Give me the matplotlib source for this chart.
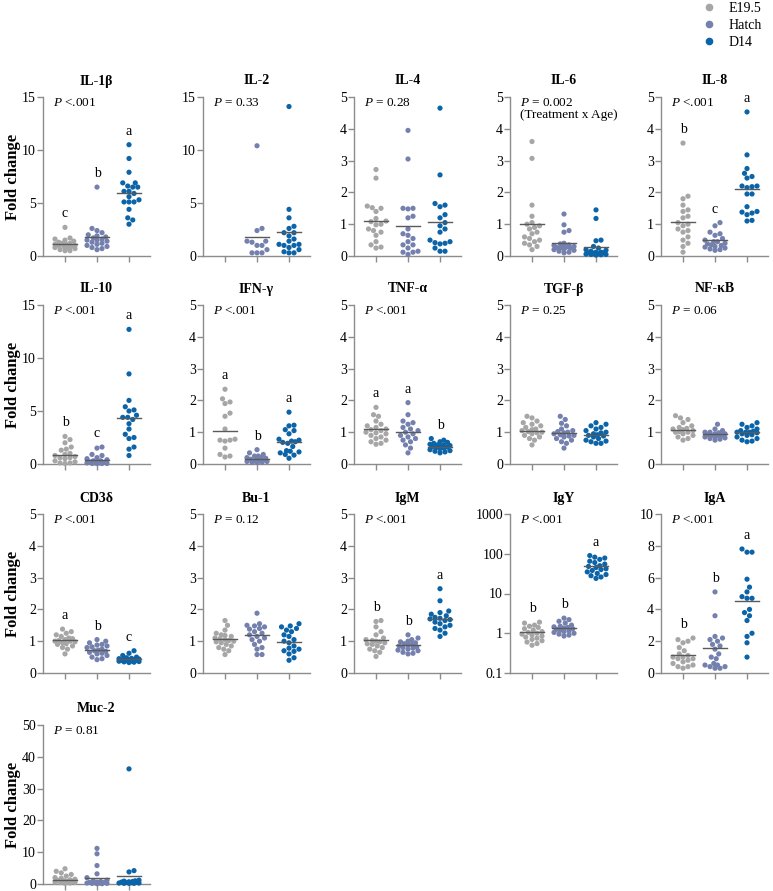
"""
Relative expression (fold change) of immune genes at E19.5, hatch and D14.
Dot-swarm per age group, horizontal line = group mean, letters = post-hoc groups.
"""
import numpy as np
import matplotlib
matplotlib.use("Agg")
import matplotlib.pyplot as plt
from matplotlib.lines import Line2D

plt.rcParams["font.family"] = ["Liberation Serif", "DejaVu Serif"]
plt.rcParams["mathtext.fontset"] = "custom"
plt.rcParams["mathtext.rm"] = "Liberation Serif"
plt.rcParams["mathtext.it"] = "Liberation Serif:italic"
plt.rcParams["mathtext.bf"] = "Liberation Serif:bold"

# ── data ───────────────────────────────────────────────────────────────────
GROUPS = ["E19.5", "Hatch", "D14"]
COLORS = ["#a6a6a6", "#7480ad", "#0b63a8"]

IL1B_E = [2.7, 1.7, 1.6, 1.5, 1.4, 1.3, 1.2, 1.2, 1.1, 1.1, 1.0, 1.0, 0.9, 0.9, 0.8, 0.8, 0.7, 0.6, 0.5, 0.5]
IL1B_H = [6.5, 2.6, 2.4, 2.2, 2.0, 1.9, 1.8, 1.7, 1.6, 1.5, 1.5, 1.4, 1.3, 1.2, 1.1, 1.0, 0.9, 0.8, 0.7, 0.6]
IL1B_D = [10.5, 9.2, 7.9, 6.9, 6.9, 6.6, 6.5, 6.5, 6.1, 6.1, 5.9, 5.6, 5.3, 5.1, 5.1, 5.1, 4.4, 3.6, 3.4, 3.0]
IL1B_MEAN = [1.1, 1.75, 5.9]

IL2_E = []
IL2_H = [10.4, 2.6, 2.4, 1.4, 1.4, 1.3, 1.0, 1.0, 0.6, 0.3, 0.3, 0.3]
IL2_D = [14.1, 4.4, 3.6, 2.8, 2.6, 2.2, 2.2, 1.9, 1.6, 1.4, 1.1, 1.1, 1.0, 1.0, 0.8, 0.6, 0.4, 0.3, 0.3]
IL2_MEAN = [None, 1.8, 2.3]

IL4_E = [2.72, 2.45, 1.57, 1.52, 1.50, 1.40, 1.18, 1.10, 1.08, 1.00, 0.98, 0.85, 0.80, 0.75, 0.65, 0.45, 0.35, 0.28, 0.25]
IL4_H = [3.95, 3.05, 1.50, 1.50, 1.48, 1.25, 1.20, 0.85, 0.70, 0.65, 0.55, 0.45, 0.35, 0.35, 0.25, 0.15, 0.12, 0.12, 0.05]
IL4_D = [4.65, 2.55, 1.65, 1.60, 1.55, 1.30, 1.20, 1.05, 0.95, 0.85, 0.75, 0.50, 0.45, 0.42, 0.40, 0.38, 0.25, 0.15, 0.15]
IL4_MEAN = [1.1, 0.95, 1.08]

IL6_E = [3.6, 3.07, 1.6, 1.25, 1.05, 1.0, 0.95, 0.9, 0.85, 0.75, 0.7, 0.6, 0.55, 0.5, 0.45, 0.4, 0.35, 0.3, 0.2]
IL6_H = [1.32, 0.98, 0.80, 0.75, 0.40, 0.38, 0.35, 0.33, 0.30, 0.30, 0.28, 0.27, 0.25, 0.25, 0.22, 0.20, 0.18, 0.15, 0.12, 0.10]
IL6_D = [1.45, 1.18, 0.50, 0.48, 0.30, 0.25, 0.20, 0.18, 0.15, 0.12, 0.12, 0.10, 0.10, 0.08, 0.07, 0.06, 0.05, 0.05, 0.04, 0.03]
IL6_MEAN = [1.0, 0.4, 0.28]

IL8_E = [3.55, 1.88, 1.80, 1.60, 1.45, 1.40, 1.25, 1.20, 1.05, 1.00, 0.95, 0.85, 0.80, 0.75, 0.60, 0.50, 0.40, 0.30, 0.12]
IL8_H = [1.05, 0.95, 0.75, 0.70, 0.65, 0.55, 0.50, 0.45, 0.45, 0.40, 0.38, 0.35, 0.33, 0.30, 0.28, 0.25, 0.22, 0.20, 0.18]
IL8_D = [4.53, 3.18, 2.75, 2.60, 2.50, 2.45, 2.20, 2.20, 2.18, 2.15, 1.95, 1.95, 1.55, 1.40, 1.38, 1.35, 1.30, 1.12, 1.10]
IL8_MEAN = [1.08, 0.5, 2.1]

IL10_E = [2.6, 2.3, 2.0, 1.6, 1.4, 1.3, 1.0, 0.9, 0.8, 0.7, 0.6, 0.6, 0.5, 0.3, 0.2, 0.1, 0.1, 0.05]
IL10_H = [1.6, 1.5, 0.9, 0.8, 0.6, 0.5, 0.4, 0.3, 0.3, 0.2, 0.2, 0.15, 0.1, 0.1, 0.1, 0.05, 0.05, 0.05, 0.05]
IL10_D = [12.7, 8.5, 6.0, 5.4, 5.1, 5.0, 4.6, 4.4, 4.4, 4.2, 3.8, 3.3, 2.8, 2.5, 2.4, 1.6, 1.4, 0.8]
IL10_MEAN = [0.85, 0.35, 4.3]

IFNG_E = [2.35, 2.05, 1.95, 1.90, 1.60, 1.50, 1.10, 0.78, 0.75, 0.75, 0.72, 0.50, 0.30, 0.25, 0.22]
IFNG_H = [0.45, 0.35, 0.30, 0.25, 0.25, 0.20, 0.20, 0.18, 0.15, 0.15, 0.12, 0.10, 0.10, 0.08, 0.08, 0.05, 0.05, 0.05]
IFNG_D = [1.63, 1.22, 1.20, 1.08, 1.05, 0.95, 0.78, 0.75, 0.72, 0.70, 0.68, 0.65, 0.55, 0.42, 0.40, 0.38, 0.35, 0.30, 0.28, 0.18]
IFNG_MEAN = [1.03, 0.17, 0.7]

TNFA_E = [1.78, 1.55, 1.50, 1.35, 1.25, 1.20, 1.15, 1.10, 1.08, 1.05, 1.00, 0.98, 0.95, 0.90, 0.85, 0.80, 0.75, 0.70, 0.65, 0.62]
TNFA_H = [1.93, 1.55, 1.35, 1.30, 1.25, 1.15, 1.10, 1.05, 1.00, 0.95, 0.90, 0.85, 0.80, 0.75, 0.70, 0.60, 0.50, 0.35]
TNFA_D = [0.80, 0.75, 0.70, 0.68, 0.65, 0.62, 0.60, 0.60, 0.58, 0.56, 0.55, 0.53, 0.52, 0.50, 0.48, 0.45, 0.42, 0.40, 0.38, 0.35]
TNFA_MEAN = [1.1, 1.02, 0.55]

TGFB_E = [1.50, 1.45, 1.35, 1.30, 1.25, 1.20, 1.15, 1.10, 1.08, 1.05, 1.02, 1.00, 0.98, 0.95, 0.90, 0.85, 0.80, 0.75, 0.60]
TGFB_H = [1.50, 1.40, 1.28, 1.20, 1.10, 1.05, 1.02, 1.00, 0.98, 0.95, 0.92, 0.90, 0.88, 0.85, 0.80, 0.75, 0.70, 0.65, 0.50]
TGFB_D = [1.30, 1.25, 1.20, 1.15, 1.10, 1.05, 1.00, 0.98, 0.95, 0.92, 0.90, 0.88, 0.85, 0.80, 0.75, 0.72, 0.70, 0.65, 0.65]
TGFB_MEAN = [1.05, 0.96, 0.92]

NFKB_E = [1.52, 1.45, 1.40, 1.30, 1.20, 1.15, 1.12, 1.10, 1.08, 1.05, 1.02, 1.00, 1.00, 0.95, 0.90, 0.85, 0.80, 0.75]
NFKB_H = [1.25, 1.10, 1.05, 1.00, 1.00, 0.98, 0.95, 0.95, 0.92, 0.90, 0.90, 0.88, 0.85, 0.85, 0.82, 0.80, 0.78, 0.75]
NFKB_D = [1.30, 1.25, 1.20, 1.15, 1.10, 1.05, 1.03, 1.00, 1.00, 1.00, 0.98, 0.95, 0.92, 0.90, 0.85, 0.80, 0.75, 0.72, 0.70]
NFKB_MEAN = [1.08, 0.93, 1.0]

CD3D_E = [1.38, 1.30, 1.25, 1.20, 1.15, 1.10, 1.08, 1.05, 1.02, 1.00, 1.00, 0.98, 0.95, 0.92, 0.90, 0.85, 0.80, 0.75, 0.60]
CD3D_H = [1.05, 1.00, 0.95, 0.90, 0.88, 0.85, 0.82, 0.80, 0.75, 0.72, 0.70, 0.68, 0.65, 0.62, 0.60, 0.55, 0.50, 0.45, 0.42]
CD3D_D = [0.70, 0.62, 0.55, 0.50, 0.48, 0.46, 0.45, 0.44, 0.43, 0.42, 0.41, 0.40, 0.40, 0.39, 0.38, 0.37, 0.36, 0.35, 0.34, 0.33]
CD3D_MEAN = [1.03, 0.72, 0.45]

BU1_E = [1.65, 1.50, 1.35, 1.25, 1.20, 1.18, 1.15, 1.10, 1.08, 1.05, 1.02, 1.00, 0.98, 0.95, 0.90, 0.85, 0.80, 0.75, 0.70, 0.58]
BU1_H = [1.88, 1.55, 1.50, 1.48, 1.45, 1.40, 1.38, 1.30, 1.25, 1.20, 1.15, 1.10, 1.05, 1.00, 0.90, 0.80, 0.75, 0.58, 0.58]
BU1_D = [1.55, 1.48, 1.45, 1.40, 1.35, 1.30, 1.20, 1.15, 1.05, 1.00, 0.95, 0.85, 0.78, 0.75, 0.70, 0.68, 0.60, 0.48, 0.40]
BU1_MEAN = [1.07, 1.2, 0.98]

IGM_E = [1.65, 1.62, 1.45, 1.30, 1.20, 1.10, 1.05, 1.02, 1.00, 0.98, 0.95, 0.92, 0.90, 0.85, 0.80, 0.75, 0.70, 0.65, 0.52]
IGM_H = [1.20, 1.10, 1.05, 1.00, 0.98, 0.95, 0.92, 0.90, 0.88, 0.85, 0.82, 0.80, 0.78, 0.75, 0.72, 0.70, 0.65, 0.62, 0.60]
IGM_D = [2.65, 2.27, 1.95, 1.90, 1.85, 1.80, 1.75, 1.72, 1.70, 1.68, 1.65, 1.60, 1.55, 1.50, 1.45, 1.40, 1.35, 1.25, 1.15]
IGM_MEAN = [1.03, 0.87, 1.7]

IGY_E = [1.9, 1.8, 1.6, 1.5, 1.4, 1.3, 1.2, 1.1, 1.05, 1.0, 0.95, 0.9, 0.85, 0.8, 0.75, 0.7, 0.65, 0.6, 0.55, 0.5]
IGY_H = [2.4, 2.2, 2.0, 1.8, 1.6, 1.5, 1.45, 1.4, 1.35, 1.3, 1.25, 1.2, 1.15, 1.1, 1.05, 1.0, 0.95, 0.9, 0.85]
IGY_D = [90, 82, 78, 72, 65, 60, 55, 50, 48, 45, 42, 40, 38, 35, 32, 30, 28, 26, 24]
IGY_MEAN = [1.05, 1.32, 48]

IGA_E = [2.2, 2.1, 2.0, 1.9, 1.6, 1.4, 1.2, 1.1, 1.0, 1.0, 0.9, 0.9, 0.8, 0.7, 0.6, 0.5, 0.4, 0.4, 0.3]
IGA_H = [5.1, 3.6, 2.3, 2.2, 2.1, 2.0, 1.8, 1.7, 1.5, 1.2, 1.0, 0.9, 0.6, 0.5, 0.5, 0.4, 0.4, 0.3, 0.3]
IGA_D = [7.8, 7.6, 7.6, 5.9, 5.4, 5.1, 4.8, 4.7, 4.7, 4.0, 3.8, 3.6, 3.3, 2.5, 2.3, 1.9, 1.0]
IGA_MEAN = [1.15, 1.55, 4.5]

MUC2_E = [4.8, 4.0, 3.5, 3.0, 2.5, 2.0, 1.8, 1.5, 1.3, 1.2, 1.0, 0.9, 0.8, 0.7, 0.6, 0.5, 0.4, 0.3, 0.2]
MUC2_H = [11.2, 9.5, 5.8, 3.2, 2.0, 1.2, 1.0, 0.8, 0.6, 0.5, 0.5, 0.4, 0.3, 0.3, 0.2, 0.2, 0.1, 0.1]
MUC2_D = [36.2, 4.2, 3.8, 1.2, 1.0, 0.9, 0.8, 0.7, 0.6, 0.5, 0.5, 0.4, 0.3, 0.3, 0.2, 0.2, 0.2]
MUC2_MEAN = [1.3, 1.9, 2.5]

TITLES = ["IL-1β", "IL-2", "IL-4", "IL-6", "IL-8",
          "IL-10", "IFN-γ", "TNF-α", "TGF-β", "NF-κB",
          "CD3δ", "Bu-1", "IgM", "IgY", "IgA", "Muc-2"]
PTEXT = ["$P$ <.001", "$P$ = 0.33", "$P$ = 0.28", "$P$ = 0.002\n(Treatment x Age)", "$P$ <.001",
         "$P$ <.001", "$P$ <.001", "$P$ <.001", "$P$ = 0.25", "$P$ = 0.06",
         "$P$ <.001", "$P$ = 0.12", "$P$ <.001", "$P$ <.001", "$P$ <.001", "$P$ = 0.81"]
LETTERS = [["c", "b", "a"], None, None, None, ["b", "c", "a"],
           ["b", "c", "a"], ["a", "b", "a"], ["a", "a", "b"], None, None,
           ["a", "b", "c"], None, ["b", "b", "a"], ["b", "b", "a"], ["b", "b", "a"], None]
YMAX = [15, 15, 5, 5, 5, 15, 5, 5, 5, 5, 5, 5, 5, 1000, 10, 50]
YSTEP = [5, 5, 1, 1, 1, 5, 1, 1, 1, 1, 1, 1, 1, None, 2, 10]

VALUES = [(IL1B_E, IL1B_H, IL1B_D), (IL2_E, IL2_H, IL2_D), (IL4_E, IL4_H, IL4_D),
          (IL6_E, IL6_H, IL6_D), (IL8_E, IL8_H, IL8_D), (IL10_E, IL10_H, IL10_D),
          (IFNG_E, IFNG_H, IFNG_D), (TNFA_E, TNFA_H, TNFA_D), (TGFB_E, TGFB_H, TGFB_D),
          (NFKB_E, NFKB_H, NFKB_D), (CD3D_E, CD3D_H, CD3D_D), (BU1_E, BU1_H, BU1_D),
          (IGM_E, IGM_H, IGM_D), (IGY_E, IGY_H, IGY_D), (IGA_E, IGA_H, IGA_D),
          (MUC2_E, MUC2_H, MUC2_D)]
MEANS = [IL1B_MEAN, IL2_MEAN, IL4_MEAN, IL6_MEAN, IL8_MEAN, IL10_MEAN, IFNG_MEAN,
         TNFA_MEAN, TGFB_MEAN, NFKB_MEAN, CD3D_MEAN, BU1_MEAN, IGM_MEAN, IGY_MEAN,
         IGA_MEAN, MUC2_MEAN]

# ── layout (pixels of a 773 x 891 canvas) ──────────────────────────────────
W, H = 773, 891
COL_X = [43, 203, 354, 510, 661]
ROW_BOTTOM = [256, 464, 673, 884]
AX_W, AX_H = 107, 159
AXIS_CLR = "#8c8c8c"
DOT_S = 14
DOT_D = 5.0    # collision distance (px) for the swarm
SWARM_MAX = 11  # half-width cap of a swarm (px)


def swarm(ax, vals, diam, cap):
    """x offsets (data units): simple beeswarm, capped in width (dots may overlap)."""
    vals = np.asarray(vals, dtype=float)
    if len(vals) == 0:
        return vals
    ypx = ax.transData.transform(np.column_stack([np.ones(len(vals)), vals]))[:, 1]
    x0, x1 = ax.transData.transform([(0, 1), (1, 1)])[:, 0]
    px_per_x = x1 - x0
    step = diam / 4
    cands = [0.0]
    k = 1
    while k * step <= cap:
        cands += [k * step, -k * step]
        k += 1
    placed = []
    off = np.zeros(len(vals))
    for i in np.argsort(ypx):
        best, best_d = 0.0, -1.0
        for c in cands:
            d = min([np.hypot(c - px, ypx[i] - py) for px, py in placed] or [1e9])
            if d >= diam:
                best = c
                break
            if d > best_d + 0.3:
                best, best_d = c, d
        placed.append((best, ypx[i]))
        off[i] = best
    return off / px_per_x


fig = plt.figure(figsize=(W / 100, H / 100), dpi=100)

for idx, title in enumerate(TITLES):
    r, c = divmod(idx, 5)
    ax = fig.add_axes([COL_X[c] / W, 1 - ROW_BOTTOM[r] / H, AX_W / W, AX_H / H])
    ax.set_xlim(0.3125, 3.656)
    if title == "IgY":
        ax.set_yscale("log")
        ax.set_ylim(0.1, 1000)
        ax.set_yticks([0.1, 1, 10, 100, 1000])
        ax.set_yticklabels(["0.1", "1", "10", "100", "1000"])
        ax.minorticks_off()
    else:
        ax.set_ylim(0, YMAX[idx])
        ax.set_yticks(np.arange(0, YMAX[idx] + 0.01, YSTEP[idx]))
        ax.yaxis.set_major_formatter(matplotlib.ticker.FormatStrFormatter("%g"))
    ax.set_xticks([1, 2, 3])
    ax.set_xticklabels([])
    ax.spines[["top", "right"]].set_visible(False)
    for s in ("left", "bottom"):
        ax.spines[s].set_color(AXIS_CLR)
        ax.spines[s].set_linewidth(1.0)
    ax.tick_params(colors=AXIS_CLR, labelcolor="black", labelsize=10, length=4, width=1.0, pad=1)
    ax.set_title(title, fontsize=10, fontweight="bold", pad=9)
    ax.text(0.09, 1.0, PTEXT[idx], transform=ax.transAxes, ha="left", va="top",
            fontsize=9.5, linespacing=1.05)

    for g in range(3):
        vals = VALUES[idx][g]
        if len(vals) == 0:
            continue
        xo = swarm(ax, vals, DOT_D, SWARM_MAX)
        ax.scatter(g + 1 + xo, vals, s=DOT_S, color=COLORS[g], edgecolors="none",
                   clip_on=False, zorder=3)
        m = MEANS[idx][g]
        ax.plot([g + 1 - 0.36, g + 1 + 0.36], [m, m], color="#5a5a5a", lw=1.0, zorder=4)
        if LETTERS[idx] is not None:
            ax.annotate(LETTERS[idx][g], (g + 1, max(vals)), xytext=(0, 5),
                        textcoords="offset points", ha="center", va="bottom", fontsize=10)

    if c == 0:
        ax.set_ylabel("Fold change", fontsize=12, fontweight="bold")
        ax.yaxis.set_label_coords(-0.21, 0.5)

# ── legend ─────────────────────────────────────────────────────────────────
handles = [Line2D([0], [0], marker="o", ls="none", markersize=4.5, color=COLORS[g],
                  label=GROUPS[g]) for g in range(3)]
fig.legend(handles=handles, loc="upper left", bbox_to_anchor=(690 / W, 1.012),
           frameon=False, fontsize=10, handletextpad=0.9, labelspacing=0.3,
           handlelength=1.0)

fig.savefig("out.png", dpi=100)
